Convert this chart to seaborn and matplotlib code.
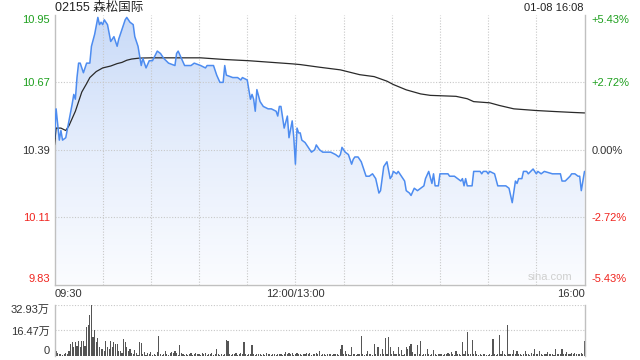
import numpy as np
import pandas as pd
import matplotlib
matplotlib.use("Agg")
import matplotlib.pyplot as plt
import seaborn as sns
from matplotlib.colors import LinearSegmentedColormap

sns.set_theme(style="white")
plt.rcParams['font.family'] = ['Liberation Sans', 'Noto Sans CJK SC', 'DejaVu Sans']

# ---------------- data ----------------
title_text = "02155 森松国际"
stamp_text = "01-08 16:08"
prev_close = 10.39

price_minutes = [0, 1, 3, 4, 5, 7, 9, 11, 12, 13, 14, 15, 16, 18, 20, 22, 23, 25, 27, 28,
                 29, 30, 31, 33, 35, 37, 39, 40, 42, 44, 45, 47, 49, 50, 52, 54, 55, 57, 59, 61,
                 64, 66, 68, 71, 75, 76, 77, 79, 81, 85, 87, 91, 94, 95, 99, 101, 103, 105, 106, 107,
                 111, 114, 116, 117, 120, 122, 123, 124, 125, 126, 128, 130, 133, 135, 138, 139, 140, 141, 143, 145,
                 146, 148, 149, 150, 151, 152, 153, 154, 156, 158, 160, 162, 163, 165, 167, 172, 175, 177, 178, 179,
                 181, 183, 185, 186, 187, 189, 191, 193, 194, 196, 198, 200, 202, 203, 205, 207, 209, 210, 211, 213,
                 214, 216, 218, 219, 221, 222, 224, 226, 228, 230, 231, 233, 235, 236, 237, 239, 240, 245, 246, 249,
                 253, 254, 255, 256, 257, 260, 261, 265, 266, 267, 269, 270, 271, 274, 276, 281, 283, 285, 287, 288,
                 289, 291, 292, 294, 295, 298, 300, 301, 303, 305, 310, 315, 316, 318, 321, 322, 324, 326, 327, 328,
                 330]
price_values = [10.44, 10.56, 10.43, 10.47, 10.43, 10.44, 10.51, 10.58, 10.62, 10.60, 10.69, 10.75, 10.75, 10.71, 10.75, 10.75, 10.82, 10.87, 10.94, 10.91,
                10.92, 10.91, 10.93, 10.91, 10.84, 10.86, 10.82, 10.85, 10.89, 10.93, 10.94, 10.92, 10.91, 10.86, 10.82, 10.74, 10.77, 10.73, 10.76, 10.76,
                10.80, 10.79, 10.77, 10.75, 10.74, 10.79, 10.80, 10.77, 10.74, 10.74, 10.75, 10.74, 10.73, 10.74, 10.74, 10.70, 10.67, 10.67, 10.74, 10.70,
                10.69, 10.69, 10.68, 10.69, 10.68, 10.60, 10.62, 10.60, 10.55, 10.64, 10.59, 10.57, 10.56, 10.56, 10.55, 10.53, 10.57, 10.57, 10.48, 10.53,
                10.44, 10.51, 10.44, 10.33, 10.48, 10.46, 10.46, 10.43, 10.42, 10.40, 10.38, 10.39, 10.41, 10.39, 10.38, 10.38, 10.37, 10.36, 10.37, 10.40,
                10.38, 10.37, 10.33, 10.35, 10.36, 10.36, 10.34, 10.30, 10.28, 10.28, 10.29, 10.27, 10.21, 10.22, 10.32, 10.34, 10.27, 10.28, 10.30, 10.29,
                10.30, 10.28, 10.26, 10.22, 10.21, 10.20, 10.23, 10.22, 10.23, 10.24, 10.27, 10.30, 10.25, 10.29, 10.24, 10.24, 10.29, 10.29, 10.28, 10.28,
                10.26, 10.27, 10.24, 10.27, 10.24, 10.24, 10.30, 10.30, 10.29, 10.30, 10.30, 10.29, 10.30, 10.29, 10.24, 10.24, 10.23, 10.17, 10.26, 10.25,
                10.27, 10.27, 10.30, 10.30, 10.29, 10.31, 10.29, 10.30, 10.29, 10.30, 10.29, 10.29, 10.26, 10.26, 10.28, 10.29, 10.29, 10.28, 10.28, 10.22,
                10.30]

avg_minutes = [0, 1, 4, 7, 9, 11, 13, 15, 17, 20, 22, 26, 30, 35, 39, 42, 45, 48, 53, 60,
               91, 106, 121, 148, 153, 165, 178, 190, 199, 207, 211, 219, 228, 234, 250, 257, 261, 271, 277, 286,
               300, 311, 323, 330]
avg_values = [10.41, 10.48, 10.48, 10.47, 10.49, 10.52, 10.55, 10.59, 10.63, 10.665, 10.69, 10.715, 10.73, 10.738, 10.748, 10.753, 10.762, 10.767, 10.771, 10.772,
              10.772, 10.765, 10.760, 10.747, 10.744, 10.733, 10.722, 10.702, 10.694, 10.675, 10.661, 10.639, 10.622, 10.616, 10.612, 10.602, 10.590, 10.585, 10.574, 10.560,
              10.553, 10.549, 10.545, 10.543]

# volume per minute (unit: 万), minute 0 .. 330
volume_wan = [
    4.4, 3.3, 2.2, 1.2, 1.5, 0.8, 1.4, 2.0, 1.1, 3.3,
    7.7, 8.8, 5.5, 8.8, 6.6, 9.9, 5.5, 9.9, 9.9, 6.6,
    18.7, 19.8, 26.3, 32.9, 12.0, 16.5, 8.8, 11.6, 5.5, 4.4,
    4.4, 3.3, 9.9, 5.5, 4.4, 9.9, 5.5, 8.8, 7.7, 7.7,
    3.3, 3.3, 2.2, 11.0, 8.8, 5.5, 3.3, 4.4, 2.2, 1.5,
    3.8, 2.2, 0.9, 9.2, 8.2, 1.5, 2.6, 0.8, 2.0, 1.2,
    2.6, 0.9, 1.5, 0.7, 2.4, 13.2, 1.0, 0.8, 1.1, 3.3,
    1.0, 0.6, 2.2, 2.8, 2.0, 3.3, 2.2, 0.9, 7.2, 2.2,
    1.2, 0.7, 1.6, 0.9, 1.1, 1.8, 0.8, 1.3, 2.0, 1.0,
    1.5, 0.8, 1.8, 1.1, 2.0, 0.9, 1.4, 1.0, 2.2, 0.8,
    1.6, 4.4, 1.0, 0.9, 1.5, 0.8, 1.2, 10.3, 9.9, 1.3,
    0.9, 1.5, 1.0, 1.8, 0.7, 1.4, 2.2, 1.0, 9.2, 1.5,
    0.8, 1.3, 1.6, 7.0, 1.1, 0.9, 1.6, 1.0, 1.4, 0.8,
    1.2, 0.9, 1.7, 1.0, 1.3, 0.8, 1.5, 1.1, 0.9, 1.4,
    1.0, 1.6, 0.8, 1.2, 2.5, 1.0, 2.2, 1.3, 1.8, 0.9,
    1.4, 2.0, 1.1, 1.6, 0.9, 1.3, 1.0, 1.8, 1.2, 2.0,
    0.9, 1.5, 1.1, 1.7, 1.0, 3.3, 0.8, 1.2, 1.5, 0.9,
    1.3, 1.0, 1.6, 0.9, 1.2, 1.0, 1.4, 0.8, 4.4, 7.2,
    1.2, 3.3, 1.0, 1.5, 0.9, 5.9, 1.3, 1.1, 0.8, 1.6,
    1.0, 13.2, 1.2, 0.9, 1.4, 3.3, 1.0, 1.5, 0.8, 7.7,
    1.2, 5.9, 5.9, 1.1, 4.4, 1.3, 11.6, 1.0, 12.5, 5.9,
    1.2, 3.3, 1.0, 1.5, 5.9, 1.1, 3.7, 0.9, 1.4, 5.5,
    4.8, 6.6, 7.7, 2.9, 1.0, 1.3, 7.0, 1.1, 9.9, 0.9,
    1.5, 1.0, 4.4, 1.2, 0.8, 1.4, 3.7, 1.1, 0.9, 1.3,
    1.0, 1.6, 0.8, 1.2, 1.5, 1.9, 1.0, 2.6, 1.2, 0.9,
    3.3, 1.1, 1.4, 0.8, 9.2, 1.3, 3.3, 15.8, 1.0, 1.2,
    10.5, 1.0, 3.3, 1.1, 0.8, 1.2, 0.9, 1.0, 1.5, 0.7,
    0.9, 1.2, 0.8, 11.0, 1.0, 0.9, 1.2, 13.8, 1.1, 3.3,
    1.0, 0.9, 19.8, 1.2, 1.0, 1.4, 3.7, 1.1, 3.3, 1.0,
    1.5, 0.9, 1.2, 3.3, 1.0, 1.4, 0.9, 1.8, 1.1, 4.4,
    1.2, 1.0, 3.3, 1.4, 0.9, 1.6, 1.1, 2.9, 1.0, 1.3,
    1.5, 0.9, 4.4, 1.2, 1.0, 1.3, 4.4, 1.5, 1.1, 2.6,
    1.0, 1.4, 1.8, 1.1, 2.0, 1.3, 1.6, 1.2, 1.8, 1.0,
    9.9,
]
volume_minutes = list(range(len(volume_wan)))

price_ticks = [9.83, 10.11, 10.39, 10.67, 10.95]
price_labels = ["9.83", "10.11", "10.39", "10.67", "10.95"]
pct_labels = ["-5.43%", "-2.72%", "0.00%", "+2.72%", "+5.43%"]
time_ticks = [0, 150, 330]
time_labels = ["09:30", "12:00/13:00", "16:00"]
grid_minutes = [30, 60, 90, 120, 150, 180, 210, 240, 270, 300]
vol_ticks = [0, 16.47, 32.93]
vol_labels = ["0", "16.47万", "32.93万"]

# ---------------- style ----------------
GREEN = "#1ea01e"
RED = "#f0241e"
DARK = "#333333"
LINE_BLUE = "#4d8cf0"
GRID = "#c8c8c8"
SPINE = "#c0c0c0"
label_colors = [RED, RED, DARK, GREEN, GREEN]

W, H = 640, 360
fig = plt.figure(figsize=(6.4, 3.6), dpi=100)
L, R = 54.5, 584.5
ax = fig.add_axes([L / W, 1 - 284.5 / H, (R - L) / W, (284.5 - 15) / H])
axv = fig.add_axes([L / W, 1 - 356 / H, (R - L) / W, (356 - 305) / H])

# ---------- price panel ----------
ymin, ymax = price_ticks[0], price_ticks[-1]
poly = ax.fill_between(price_minutes, price_values, ymin, facecolor="none", edgecolor="none")
cmap = LinearSegmentedColormap.from_list("fillgrad", ["#fbfcff", "#e6eefc", "#c8daf8"])
grad = np.linspace(1, 0, 256).reshape(-1, 1)
im = ax.imshow(grad, extent=[0, 330, ymin, ymax], aspect="auto", cmap=cmap,
               origin="upper", zorder=1, interpolation="bilinear")
im.set_clip_path(poly.get_paths()[0], transform=ax.transData)

for g in grid_minutes:
    ax.axvline(g, color=GRID, lw=0.8, ls=(0, (1, 1.5)), zorder=2)
for v in price_ticks[1:-1]:
    ax.axhline(v, color=GRID, lw=0.8, ls=(0, (1, 1.5)), zorder=2)

sns.lineplot(x=avg_minutes, y=avg_values, ax=ax, color="#2a2a2a", lw=0.9,
             estimator=None, zorder=4)
sns.lineplot(x=price_minutes, y=price_values, ax=ax, color=LINE_BLUE, lw=1.1,
             estimator=None, zorder=5)

ax.set_xlim(0, 330)
ax.set_ylim(ymin, ymax)
ax.set_xlabel("")
ax.set_ylabel("")
ax.set_yticks(price_ticks)
ax.set_yticklabels(price_labels)
ax.tick_params(axis="y", length=0, pad=3.5, labelsize=8)
for lbl, c in zip(ax.get_yticklabels(), label_colors):
    lbl.set_color(c)
ax.get_yticklabels()[0].set_va("bottom")
ax.get_yticklabels()[-1].set_va("top")

ax.set_xticks(time_ticks)
ax.set_xticklabels(time_labels)
ax.tick_params(axis="x", length=0, pad=3, labelsize=8, labelcolor=DARK)
xl = ax.get_xticklabels()
xl[0].set_ha("left")
xl[-1].set_ha("right")

for s in ["left", "right", "bottom"]:
    ax.spines[s].set_color(SPINE)
    ax.spines[s].set_linewidth(1)
    ax.spines[s].set_visible(True)
ax.spines["top"].set_visible(False)

ax2 = ax.twinx()
ax2.set_ylim(ymin, ymax)
ax2.set_yticks(price_ticks)
ax2.set_yticklabels(pct_labels)
ax2.tick_params(axis="y", length=0, pad=5, labelsize=8)
for lbl, c in zip(ax2.get_yticklabels(), label_colors):
    lbl.set_color(c)
ax2.get_yticklabels()[0].set_va("bottom")
ax2.get_yticklabels()[-1].set_va("top")
for s in ax2.spines.values():
    s.set_visible(False)
ax2.grid(False)

ax.text(0.978, 0.01, "sina.com", transform=ax.transAxes, ha="right", va="bottom",
        fontsize=8, color="#cfcfcf", zorder=6)

# ---------- volume panel ----------
vol_df = pd.DataFrame({"minute": volume_minutes, "vol": volume_wan})
sns.barplot(data=vol_df, x="minute", y="vol", native_scale=True, ax=axv,
            color="#555555", saturation=1, errorbar=None, width=0.7, linewidth=0)
for v in vol_ticks[1:]:
    axv.axhline(v, color=GRID, lw=0.8, ls=(0, (1, 1.5)), zorder=0)
axv.set_xlim(0, 330)
axv.set_ylim(0, vol_ticks[-1])
axv.set_xlabel("")
axv.set_ylabel("")
axv.set_xticks([])
axv.set_yticks(vol_ticks)
axv.set_yticklabels(vol_labels)
axv.tick_params(axis="y", length=0, pad=3.5, labelsize=8, labelcolor=DARK)
axv.get_yticklabels()[0].set_va("bottom")
axv.get_yticklabels()[-1].set_va("top")
for s in ["left", "right"]:
    axv.spines[s].set_color(SPINE)
    axv.spines[s].set_linewidth(1)
    axv.spines[s].set_visible(True)
axv.spines["top"].set_visible(False)
axv.spines["bottom"].set_visible(False)

# ---------- header ----------
fig.text(55 / W, 1 - 8 / H, title_text, ha="left", va="center", fontsize=9, color="#222222")
fig.text(584 / W, 1 - 8 / H, stamp_text, ha="right", va="center", fontsize=8, color="#222222")

fig.savefig("out.png", dpi=100)
